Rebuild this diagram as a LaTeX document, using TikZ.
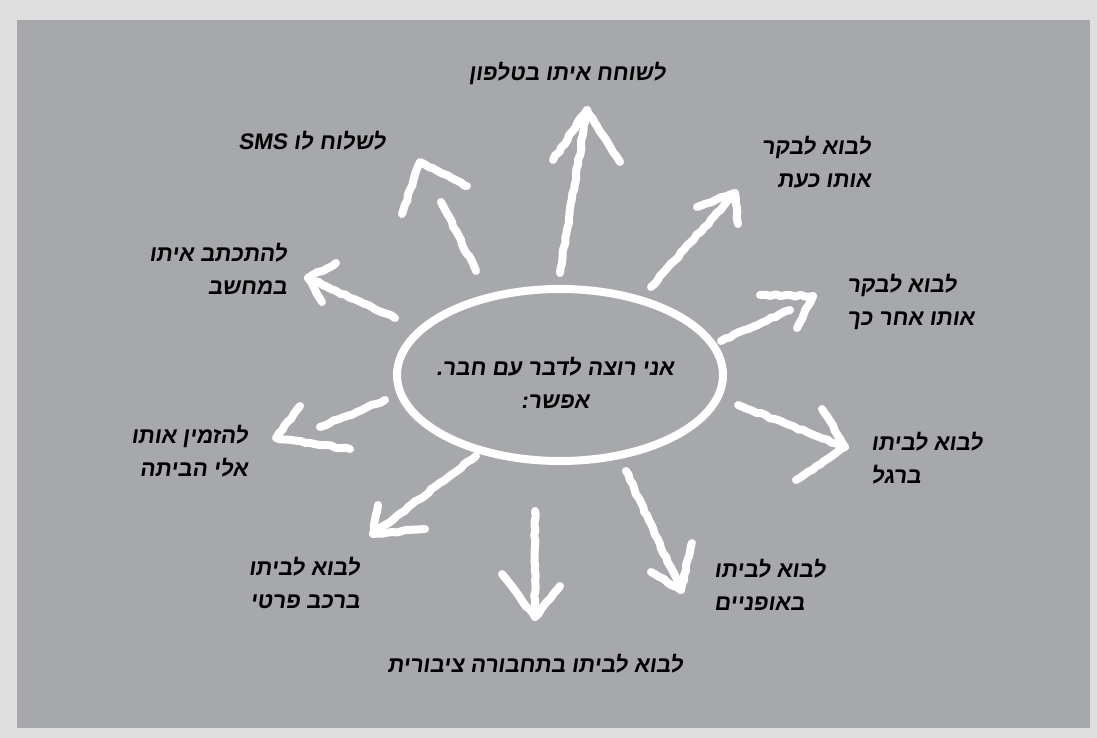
\documentclass[tikz,border=0pt]{standalone}
\usepackage{fontspec}
\usetikzlibrary{shapes.geometric,decorations.pathmorphing}
\TeXXeTstate=1
\newfontfamily\heb[Script=Hebrew,FakeSlant=0.15]{Liberation Sans}
\definecolor{outerbg}{HTML}{DEDEDE}
\definecolor{innerbg}{HTML}{A7A8AB}
\begin{document}
\begin{tikzpicture}[x=1pt,y=-1pt,
  lbl/.style={font=\heb\bfseries\fontsize{22.5}{33}\selectfont, text=black, inner sep=0pt},
  chalk/.style={draw=white, line width=8pt, line cap=round, line join=round,
    decorate, decoration={random steps, segment length=5pt, amplitude=0.9pt}},
  bubble/.style={ellipse, draw=white, line width=8pt, minimum width=326pt, minimum height=172pt, inner sep=0pt}
]
\pgfmathsetseed{7}
\useasboundingbox (0,0) rectangle (1097,738);
\fill[outerbg] (0,0) rectangle (1097,738);
\fill[innerbg] (17,20) rectangle (1090,728);

% centre
\node[bubble] (c) at (560,375) {};
\node[lbl, align=center] (ctext) at (555,383) {\beginR אני רוצה לדבר עם חבר.\endR\\\beginR אפשר:\endR};

% labels
\node[lbl] (n1) at (567,73) {\beginR לשוחח איתו בטלפון\endR};
\node[lbl] (n2) at (312,141) {\beginR לשלוח לו \beginL SMS\endL\endR};
\node[lbl, align=right, anchor=east] (n3) at (871,162) {\beginR לבוא לבקר\endR\\\beginR אותו כעת\endR};
\node[lbl, align=right, anchor=east] (n4) at (287,269) {\beginR להתכתב איתו\endR\\\beginR במחשב\endR};
\node[lbl, align=left, anchor=west] (n5) at (847,302) {\beginR לבוא לבקר\endR\\\beginR אותו אחר כך\endR};
\node[lbl, align=right, anchor=east] (n6) at (248,451) {\beginR להזמין אותו\endR\\\beginR אלי הביתה\endR};
\node[lbl, align=left, anchor=west] (n7) at (871,458) {\beginR לבוא לביתו\endR\\\beginR ברגל\endR};
\node[lbl, align=right, anchor=east] (n8) at (360,583) {\beginR לבוא לביתו\endR\\\beginR ברכב פרטי\endR};
\node[lbl, align=left, anchor=west] (n9) at (714,585) {\beginR לבוא לביתו\endR\\\beginR באופניים\endR};
\node[lbl] (n10) at (535,664) {\beginR לבוא לביתו בתחבורה ציבורית\endR};

% arrow coordinates
\coordinate (s1) at (560,273); \coordinate (t1) at (587,110); \coordinate (a1) at (553,160); \coordinate (b1) at (620,162);
\coordinate (s2) at (476,271); \coordinate (e2) at (441,202); \coordinate (a2) at (402,214); \coordinate (t2) at (420,162); \coordinate (b2) at (467,186);
\coordinate (s3) at (651,287); \coordinate (t3) at (735,193); \coordinate (a3) at (697,207); \coordinate (b3) at (738,224);
\coordinate (s4) at (721,341); \coordinate (e4) at (790,310); \coordinate (a4) at (760,295); \coordinate (t4) at (813,296); \coordinate (b4) at (797,328);
\coordinate (s5) at (738,405); \coordinate (t5) at (845,447); \coordinate (a5) at (822,409); \coordinate (b5) at (796,480);
\coordinate (s6) at (626,471); \coordinate (t6) at (681,590); \coordinate (a6) at (651,572); \coordinate (b6) at (692,543);
\coordinate (s7) at (535,511); \coordinate (t7) at (535,617); \coordinate (a7) at (502,574); \coordinate (b7) at (560,586);
\coordinate (s8) at (476,456); \coordinate (t8) at (373,534); \coordinate (a8) at (378,505); \coordinate (b8) at (425,529);
\coordinate (s9) at (385,400); \coordinate (e9) at (320,427); \coordinate (a9) at (300,406); \coordinate (t9) at (276,438); \coordinate (b9) at (350,449);
\coordinate (s10) at (395,318); \coordinate (t10) at (308,278); \coordinate (a10) at (336,263); \coordinate (b10) at (322,302);

% arrows
\draw[chalk] (s1) -- (t1); \draw[chalk] (a1) -- (t1) -- (b1);
\draw[chalk] (s2) -- (e2); \draw[chalk] (a2) -- (t2) -- (b2);
\draw[chalk] (s3) -- (t3); \draw[chalk] (a3) -- (t3) -- (b3);
\draw[chalk] (s4) -- (e4); \draw[chalk] (a4) -- (t4) -- (b4);
\draw[chalk] (s5) -- (t5); \draw[chalk] (a5) -- (t5) -- (b5);
\draw[chalk] (s6) -- (t6); \draw[chalk] (a6) -- (t6) -- (b6);
\draw[chalk] (s7) -- (t7); \draw[chalk] (a7) -- (t7) -- (b7);
\draw[chalk] (s8) -- (t8); \draw[chalk] (a8) -- (t8) -- (b8);
\draw[chalk] (s9) -- (e9); \draw[chalk] (a9) -- (t9) -- (b9);
\draw[chalk] (s10) -- (t10); \draw[chalk] (a10) -- (t10) -- (b10);
\end{tikzpicture}
\end{document}
